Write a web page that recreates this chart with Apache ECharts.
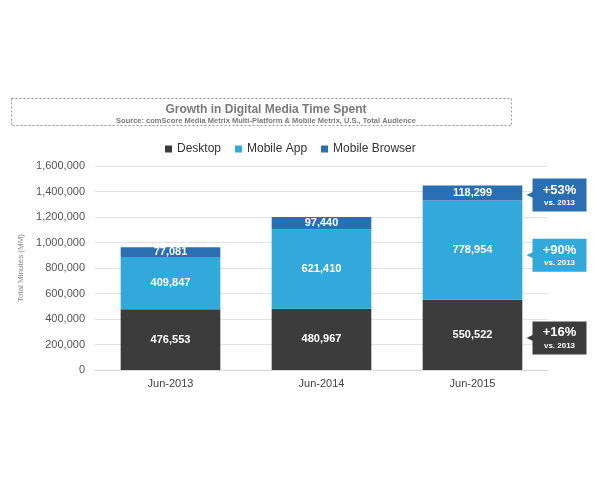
<!DOCTYPE html>
<html>
<head>
<meta charset="utf-8">
<script src="https://cdn.jsdelivr.net/npm/echarts@6/dist/echarts.min.js"></script>
<style>
  html, body { margin: 0; padding: 0; background: #fff; }
  #chart { width: 600px; height: 480px; }
</style>
</head>
<body>
<div id="chart"></div>
<script>
// data
var categories = ["Jun-2013", "Jun-2014", "Jun-2015"];
var desktop = [476553, 480967, 550522];
var mobileApp = [409847, 621410, 778954];
var mobileBrowser = [77081, 97440, 118299];
var growthText = ["+16%", "+90%", "+53%"]; // desktop, app, browser vs. 2013
var yTicks = [0, 200000, 400000, 600000, 800000, 1000000, 1200000, 1400000, 1600000];

var colors = ["#3c3c3c", "#33a8da", "#2b6fb3"];

function fmt(v) {
  return String(v).replace(/\B(?=(\d{3})+(?!\d))/g, ",");
}

var last = categories.length - 1;
// stacked midpoints of the last bar, for the callouts
var mids = [
  desktop[last] / 2,
  desktop[last] + mobileApp[last] / 2,
  desktop[last] + mobileApp[last] + mobileBrowser[last] / 2
];

var callout = "path://M6,0 L60,0 L60,34 L6,34 L6,20 L0,17 L6,14 Z";
var nudge = [3, 5, 2]; // callouts sit a touch below the segment middle

function calloutPoint(idx) {
  return {
    symbol: callout,
    symbolSize: [60, 33],
    symbolOffset: [84, nudge[idx]],
    silent: true,
    itemStyle: { color: colors[idx] },
    label: {
      show: true,
      position: "inside",
      offset: [3, 0],
      formatter: function () {
        return "{a|" + growthText[idx] + "}\n{b|vs. 2013}";
      },
      rich: {
        a: { color: "#fff", fontSize: 13, fontWeight: "bold", fontFamily: "Liberation Sans", lineHeight: 15 },
        b: { color: "#fff", fontSize: 8, fontWeight: "bold", fontFamily: "Liberation Sans", lineHeight: 10 }
      }
    },
    data: [{ coord: [categories[last], mids[idx]] }]
  };
}

var barLabel = {
  show: true,
  position: "inside",
  color: "#fff",
  fontSize: 11,
  fontWeight: "bold",
  fontFamily: "Liberation Sans",
  formatter: function (p) { return fmt(p.value); }
};

var chart = echarts.init(document.getElementById("chart"));
chart.setOption({
  backgroundColor: "#fff",
  animation: false,
  title: {
    text: "Growth in Digital Media Time Spent",
    subtext: "Source: comScore Media Metrix Multi-Platform & Mobile Metrix, U.S., Total Audience",
    left: 261,
    top: 99,
    textAlign: "center",
    itemGap: 1,
    textStyle: { color: "#7a7a7a", fontSize: 12, fontWeight: "bold", fontFamily: "Liberation Sans" },
    subtextStyle: { color: "#7a7a7a", fontSize: 7.5, fontWeight: "bold", fontFamily: "Liberation Sans" }
  },
  graphic: [{
    type: "rect",
    shape: { x: 11.5, y: 98.5, width: 500, height: 27 },
    style: { fill: "none", stroke: "#999", lineWidth: 1, lineDash: [2, 2] },
    silent: true
  }],
  legend: {
    top: 138,
    left: 160,
    itemWidth: 7,
    itemHeight: 7,
    itemGap: 14,
    icon: "rect",
    textStyle: { color: "#333", fontSize: 12, fontFamily: "Liberation Sans" },
    data: ["Desktop", "Mobile App", "Mobile Browser"]
  },
  grid: { left: 95, right: 52, top: 166, bottom: 110 },
  xAxis: {
    type: "category",
    data: categories,
    axisLine: { lineStyle: { color: "#d6d6d6" } },
    axisTick: { show: false },
    axisLabel: { color: "#444", fontSize: 11, fontFamily: "Liberation Sans", margin: 8 }
  },
  yAxis: {
    type: "value",
    min: yTicks[0],
    max: yTicks[yTicks.length - 1],
    interval: yTicks[1] - yTicks[0],
    name: "Total Minutes (MM)",
    nameLocation: "middle",
    nameRotate: 90,
    nameGap: 70,
    nameTextStyle: { color: "#888", fontSize: 8, fontFamily: "Liberation Sans" },
    axisLine: { show: false },
    axisTick: { show: false },
    axisLabel: { color: "#555", fontSize: 11, fontFamily: "Liberation Sans", margin: 10, formatter: fmt },
    splitLine: { lineStyle: { color: "#e2e2e2" } }
  },
  series: [
    {
      name: "Desktop", type: "bar", stack: "total", barWidth: "66%",
      itemStyle: { color: colors[0] }, label: barLabel, data: desktop,
      markPoint: calloutPoint(0)
    },
    {
      name: "Mobile App", type: "bar", stack: "total",
      itemStyle: { color: colors[1] }, label: barLabel, data: mobileApp,
      markPoint: calloutPoint(1)
    },
    {
      name: "Mobile Browser", type: "bar", stack: "total",
      itemStyle: { color: colors[2] }, label: barLabel, data: mobileBrowser,
      markPoint: calloutPoint(2)
    }
  ]
});
</script>
</body>
</html>
